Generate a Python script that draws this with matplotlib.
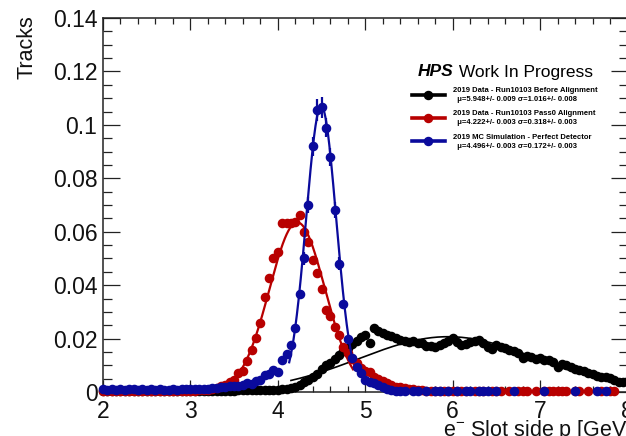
import numpy as np
import matplotlib
matplotlib.use("Agg")
import matplotlib.pyplot as plt
from matplotlib.lines import Line2D
from matplotlib.ticker import MultipleLocator

plt.rcParams['font.family'] = ['Liberation Sans', 'DejaVu Sans']
plt.rcParams['mathtext.fontset'] = 'custom'
plt.rcParams['mathtext.rm'] = 'Liberation Sans'

nan = np.nan

# bin centres of the momentum histograms (0.05 GeV steps)
p_centres = np.linspace(2.0, 8.0, 121)

# normalised track counts per bin
before_align = [
    0.0002, 0.0003, 0.0002, 0.0003, 0.0002, 0.0003, 0.0003, 0.0002, 0.0003, 0.0002,
    0.0003, 0.0003, 0.0002, 0.0003, 0.0003, 0.0002, 0.0003, 0.0003, 0.0004, 0.0003,
    0.0003, 0.0004, 0.0003, 0.0004, 0.0004, 0.0003, 0.0004, 0.0004, 0.0005, 0.0005,
    0.0005, 0.0006, 0.0006, 0.0007, 0.0006, 0.0007, 0.0007, 0.0008, 0.0008, 0.0009,
    0.0009, 0.0011, 0.0013, 0.0016, 0.0020, 0.0028, 0.0037, 0.0045, 0.0056, 0.0068,
    0.0086, 0.0101, 0.0108, 0.0125, 0.0140, 0.0152, 0.0164, 0.0180, 0.0192, 0.0205,
    0.0213, 0.0183, 0.0239, 0.0230, 0.0222, 0.0214, 0.0208, 0.0203, 0.0196, 0.0190,
    0.0186, 0.0190, 0.0183, 0.0182, 0.0174, 0.0172, 0.0170, 0.0175, 0.0182, 0.0190,
    0.0201, 0.0188, 0.0176, 0.0180, 0.0186, 0.0191, 0.0193, 0.0185, 0.0168, 0.0160,
    0.0175, 0.0170, 0.0165, 0.0157, 0.0152, 0.0147, 0.0128, 0.0136, 0.0130, 0.0124,
    0.0126, 0.0121, 0.0118, 0.0112, 0.0094, 0.0106, 0.0100, 0.0094, 0.0086, 0.0082,
    0.0078, 0.0072, 0.0068, 0.0060, 0.0057, 0.0058, 0.0052, 0.0046, 0.0039, 0.0037,
    0.0041,
]

pass0_align = [
    0.0004, 0.0003, 0.0005, 0.0004, 0.0003, 0.0004, 0.0005, 0.0004, 0.0003, 0.0004,
    0.0004, 0.0005, 0.0003, 0.0004, 0.0004, 0.0005, 0.0004, 0.0003, 0.0005, 0.0004,
    0.0005, 0.0005, 0.0006, 0.0007, 0.0009, 0.0012, 0.0016, 0.0022, 0.0028, 0.0036,
    0.0045, 0.0070, 0.0078, 0.0117, 0.0157, 0.0201, 0.0260, 0.0355, 0.0427, 0.0500,
    0.0525, 0.0632, 0.0634, 0.0634, 0.0636, 0.0664, 0.0600, 0.0560, 0.0494, 0.0447,
    0.0384, 0.0307, 0.0285, 0.0244, 0.0215, 0.0170, 0.0145, 0.0125, 0.0107, 0.0089,
    0.0080, 0.0076, 0.0057, 0.0050, 0.0042, 0.0033, 0.0026, 0.0020, 0.0017, 0.0014,
    0.0012, 0.0010, 0.0008, 0.0007, 0.0005, 0.0005, 0.0004, 0.0004, 0.0004, 0.0003,
    0.0004, 0.0003, 0.0003, 0.0003, nan, 0.0003, 0.0003, 0.0003, nan, 0.0003,
    0.0003, 0.0003, nan, 0.0003, nan, 0.0003, 0.0003, 0.0003, nan, 0.0003,
    nan, 0.0003, 0.0003, 0.0003, 0.0003, 0.0003, 0.0003, nan, 0.0003, 0.0003,
    nan, 0.0003, nan, nan, 0.0003, nan, 0.0003, 0.0003, nan, nan,
    nan,
]

mc_perfect = [
    0.0010, 0.0009, 0.0011, 0.0008, 0.0010, 0.0009, 0.0011, 0.0010, 0.0008, 0.0010,
    0.0009, 0.0011, 0.0008, 0.0010, 0.0009, 0.0008, 0.0010, 0.0009, 0.0011, 0.0010,
    0.0010, 0.0011, 0.0012, 0.0012, 0.0013, 0.0014, 0.0015, 0.0017, 0.0019, 0.0021,
    0.0022, 0.0024, 0.0027, 0.0033, 0.0029, 0.0040, 0.0045, 0.0064, 0.0068, 0.0082,
    0.0076, 0.0120, 0.0142, 0.0176, 0.0240, 0.0366, 0.0500, 0.0700, 0.0920, 0.1055,
    0.1066, 0.0990, 0.0880, 0.0680, 0.0480, 0.0330, 0.0200, 0.0126, 0.0095, 0.0070,
    0.0045, 0.0036, 0.0033, 0.0026, 0.0020, 0.0012, 0.0007, 0.0005, 0.0004, 0.0004,
    nan, 0.0003, 0.0003, nan, 0.0003, nan, 0.0003, 0.0003, nan, 0.0003,
    nan, 0.0003, nan, 0.0003, 0.0003, nan, 0.0003, 0.0003, 0.0003, nan,
    0.0003, nan, nan, nan, 0.0003, nan, nan, nan, nan, nan,
    nan, 0.0003, nan, nan, nan, nan, nan, nan, 0.0003, nan,
    nan, nan, nan, 0.0003, nan, 0.0003, nan, nan, nan, nan,
    nan,
]

# statistical errors on the simulated peak bins
mc_err_p = [4.30, 4.35, 4.40, 4.45, 4.50, 4.55, 4.60, 4.65, 4.70]
mc_err = [0.0025, 0.0030, 0.0035, 0.0040, 0.0040, 0.0036, 0.0034, 0.0030, 0.0025]

# gaussian fit results: amplitude, mean, sigma, fit range
fit_before = (0.0207, 5.948, 1.016, 4.15, 8.0)
fit_pass0 = (0.0635, 4.222, 0.318, 3.49, 4.86)
fit_mc = (0.1070, 4.496, 0.172, 4.13, 4.84)

labels = [
    "2019 Data - Run10103 Before Alignment\n  \u03bc=5.948+/- 0.009 \u03c3=1.016+/- 0.008",
    "2019 Data - Run10103 Pass0 Alignment\n  \u03bc=4.222+/- 0.003 \u03c3=0.318+/- 0.003",
    "2019 MC Simulation - Perfect Detector\n  \u03bc=4.496+/- 0.003 \u03c3=0.172+/- 0.003",
]
colors = ["#000000", "#b80000", "#0a0a9c"]

x_ticks = [2, 3, 4, 5, 6, 7, 8]
y_ticks = [0, 0.02, 0.04, 0.06, 0.08, 0.1, 0.12, 0.14]
y_ticklabels = ["0", "0.02", "0.04", "0.06", "0.08", "0.1", "0.12", "0.14"]


def gauss(x, a, mu, s):
    return a * np.exp(-0.5 * ((x - mu) / s) ** 2)


W, H = 626, 436
fig = plt.figure(figsize=(W / 100, H / 100), dpi=100)
ax = fig.add_axes([103 / W, 44 / H, 524.5 / W, 374 / H])
ax.set_xlim(2, 8)
ax.set_ylim(0, 0.14)

series = [before_align, pass0_align, mc_perfect]
fits = [fit_before, fit_pass0, fit_mc]
fit_lw = [1.2, 1.6, 1.6]
for i, (vals, fit, col) in enumerate(zip(series, fits, colors)):
    z = 3 + i
    ax.plot(p_centres, vals, ls="none", marker="o", ms=5.9, color=col,
            mec=col, zorder=z, clip_on=False)
    a, mu, s, lo, hi = fit
    xf = np.linspace(lo, hi, 400)
    ax.plot(xf, gauss(xf, a, mu, s), color=col, lw=fit_lw[i], zorder=z + 0.5)

mc_lookup = dict(zip(np.round(p_centres, 2), mc_perfect))
ax.errorbar(mc_err_p, [mc_lookup[round(p, 2)] for p in mc_err_p], yerr=mc_err,
            fmt="none", ecolor=colors[2], elinewidth=1.6, capsize=0, zorder=5.6)

# axes styling
ax.set_xticks(x_ticks)
ax.set_xticklabels([str(t) for t in x_ticks])
ax.set_yticks(y_ticks)
ax.set_yticklabels(y_ticklabels)
ax.xaxis.set_minor_locator(MultipleLocator(0.2))
ax.yaxis.set_minor_locator(MultipleLocator(0.005))
ax.tick_params(axis="both", which="both", direction="in", top=True, right=True,
               labelsize=16.5, width=0.9, colors="#222222", labelcolor="#111111")
ax.tick_params(axis="x", which="major", length=8.5, pad=5.5)
ax.tick_params(axis="x", which="minor", length=4.5)
ax.tick_params(axis="y", which="major", length=12, pad=4)
ax.tick_params(axis="y", which="minor", length=6.5)
for sp in ax.spines.values():
    sp.set_linewidth(1.1)
    sp.set_color("#222222")

fig.text(27 / W, 1 - 15 / H, "Tracks", rotation=90, ha="center", va="top",
         fontsize=15.5, color="#111111")
fig.text(632 / W, 0.5 / H, r"e$^{-}$ Slot side p [GeV]", ha="right",
         va="baseline", fontsize=15.5, color="#111111")

# header
t_hps = fig.text(418 / W, 1 - 76.5 / H, "HPS", fontsize=12.5, fontweight="bold",
                 fontstyle="italic", va="baseline")
ax.annotate(" Work In Progress", xy=(1, 0), xycoords=t_hps, va="bottom",
            ha="left", fontsize=12.5)

# legend
handles = [Line2D([], [], color=c, lw=2.6, marker="o", ms=5.8) for c in colors]
leg = fig.legend(handles, labels, loc="upper left",
                 bbox_to_anchor=(412 / W, 1 - 87 / H), frameon=False,
                 prop={"size": 5.5, "weight": "bold"}, borderpad=0,
                 borderaxespad=0, handlelength=4.3, handletextpad=1.05,
                 labelspacing=1.0, numpoints=1)
for t in leg.get_texts():
    t.set_linespacing(1.35)

fig.savefig("out.png", dpi=100)
